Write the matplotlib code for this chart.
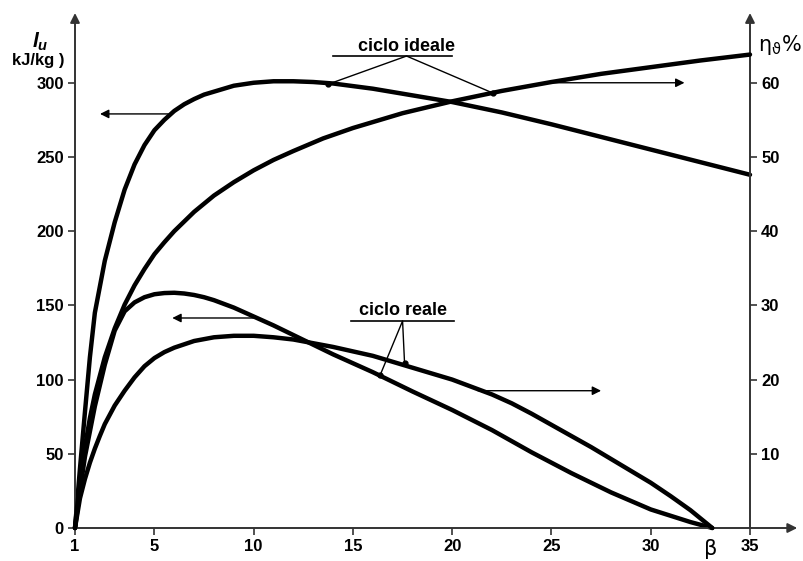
import numpy as np
import matplotlib.pyplot as plt

plt.rcParams['font.family'] = ['Liberation Sans', 'DejaVu Sans']
plt.rcParams['mathtext.fontset'] = 'custom'
plt.rcParams['mathtext.it'] = 'Liberation Sans:bold:italic'
plt.rcParams['mathtext.rm'] = 'Liberation Sans:bold'

# Data
# ideal cycle: specific work (kJ/kg, left axis)
beta_iw = [1, 1.25, 1.5, 1.75, 2, 2.5, 3, 3.5, 4, 4.5, 5, 5.5, 6, 6.5, 7, 7.5, 8, 9, 10, 11, 12, 13, 14, 16,
           18, 20, 22.5, 25, 27.5, 30, 32.5, 35]
lu_ideal = [0, 40, 78, 115, 145, 180, 206, 228, 245, 258, 268, 275, 281, 285.5, 289, 292, 294, 298, 300, 301,
            301, 300.5, 299.5, 296, 291.5, 287, 280, 272, 263.5, 255, 246.5, 238]

# ideal cycle: efficiency (%, right axis)
beta_ie = [1, 1.1, 1.25, 1.5, 1.75, 2, 2.5, 3, 3.5, 4, 4.5, 5, 5.5, 6, 7, 8, 9, 10, 11, 12, 13.5, 15, 17.5,
           20, 22.5, 25, 27.5, 30, 32.5, 35]
eta_ideal = [0, 2.7, 6.2, 10.9, 14.8, 18.0, 23.0, 26.9, 30.1, 32.7, 34.9, 36.9, 38.5, 40.0, 42.6, 44.8, 46.6,
             48.2, 49.6, 50.8, 52.5, 53.9, 55.9, 57.5, 58.9, 60.1, 61.2, 62.1, 63.0, 63.8]

# real cycle: specific work (kJ/kg, left axis)
beta_rw = [1, 1.25, 1.5, 2, 2.5, 3, 3.5, 4, 4.5, 5, 5.5, 6, 6.5, 7, 7.5, 8, 9, 10, 11, 12, 13, 14, 16, 18,
           20, 22, 24, 26, 28, 30, 32, 33.1]
lu_real = [0, 25, 48, 82, 110, 133, 146, 152, 155.5, 157.5, 158.3, 158.5, 158, 157, 155.5, 153.5, 148.5,
           142.5, 136.5, 130, 123.5, 117, 105, 92, 79.5, 66, 51, 37, 24, 12.5, 4, 0]

# real cycle: efficiency (%, right axis)
beta_re = [1, 1.25, 1.5, 1.75, 2, 2.25, 2.5, 3, 3.5, 4, 4.5, 5, 5.5, 6, 7, 8, 9, 10, 11, 12, 13, 14, 15, 16,
           17, 18, 19, 20, 21, 22, 23, 24, 25, 26, 27, 28, 29, 30, 31, 32, 33.1]
eta_real = [0, 4.0, 6.6, 8.8, 10.7, 12.4, 14.0, 16.5, 18.5, 20.3, 21.8, 22.9, 23.7, 24.3, 25.2, 25.7, 25.9,
            25.9, 25.7, 25.4, 24.9, 24.4, 23.8, 23.2, 22.4, 21.6, 20.8, 20.0, 19.0, 18.0, 16.8, 15.4, 13.9,
            12.4, 10.9, 9.3, 7.7, 6.1, 4.3, 2.4, 0]

x_ticks = [1, 5, 10, 15, 20, 25, 30, 35]
y_ticks = [0, 50, 100, 150, 200, 250, 300]
y2_ticks = [10, 20, 30, 40, 50, 60]

y_top = 347
axis_col = '#333333'

fig = plt.figure(figsize=(8.04, 5.61), dpi=100)
ax = fig.add_axes([75 / 804, 33 / 561, 675 / 804, 515 / 561])
ax2 = ax.twinx()

ax.set_xlim(1, 35)
ax.set_ylim(0, y_top)
ax2.set_ylim(0, y_top / 5)

for a in (ax, ax2):
    for s in a.spines.values():
        s.set_visible(False)

ax.set_xticks(x_ticks)
ax.set_yticks(y_ticks)
ax2.set_yticks(y2_ticks)
ax.tick_params(axis='both', direction='out', length=5, width=1.2, color=axis_col, labelsize=12, pad=3)
ax2.tick_params(axis='y', direction='out', length=5, width=1.2, color=axis_col, labelsize=12, pad=3)
for lab in ax.get_xticklabels() + ax.get_yticklabels() + ax2.get_yticklabels():
    lab.set_fontweight('bold')

# axes drawn as arrows
arr = dict(arrowstyle='-|>', lw=1.4, color=axis_col, mutation_scale=14, shrinkA=0, shrinkB=0)
ax.annotate('', xy=(0, 1), xytext=(0, 0), xycoords='axes fraction', arrowprops=arr, annotation_clip=False)
ax.annotate('', xy=(1, 1), xytext=(1, 0), xycoords='axes fraction', arrowprops=arr, annotation_clip=False)
ax.annotate('', xy=(1.07, 0), xytext=(0, 0), xycoords='axes fraction', arrowprops=arr, annotation_clip=False)

# curves
lw = 3.2
style = dict(color='black', lw=lw, solid_joinstyle='round', solid_capstyle='round', clip_on=False)
ax.plot(beta_iw, lu_ideal, **style)
ax.plot(beta_rw, lu_real, **style)
ax2.plot(beta_ie, eta_ideal, **style)
ax2.plot(beta_re, eta_real, **style)

# direction arrows (which axis each curve belongs to)
thin = dict(arrowstyle='-|>', lw=1.0, color='black', mutation_scale=13, shrinkA=0, shrinkB=0)
ax2.annotate('', xy=(2.26, 279), xytext=(5.7, 279), xycoords=ax.transData, arrowprops=thin)
ax2.annotate('', xy=(31.7, 300), xytext=(24.5, 300), xycoords=ax.transData, arrowprops=thin)
ax2.annotate('', xy=(5.9, 141.5), xytext=(10.0, 141.5), xycoords=ax.transData, arrowprops=thin)
ax2.annotate('', xy=(27.5, 92.5), xytext=(21.3, 92.5), xycoords=ax.transData, arrowprops=thin)

# labels of the two cycles
ax2.text(17.7, 319, 'ciclo ideale', transform=ax.transData, ha='center', va='bottom',
         fontsize=13, fontweight='bold')
ax2.plot([14.0, 20.0], [318, 318], color='black', lw=1.2, transform=ax.transData)
ax2.plot([13.75, 17.7, 22.06], [299, 318, 293], color='black', lw=1.0, transform=ax.transData)
ax2.plot([13.75, 22.06], [299, 293], 'o', color='black', ms=3.5, transform=ax.transData)

ax2.text(17.5, 140.5, 'ciclo reale', transform=ax.transData, ha='center', va='bottom',
         fontsize=13, fontweight='bold')
ax2.plot([14.9, 20.1], [139.5, 139.5], color='black', lw=1.2, transform=ax.transData)
ax2.plot([16.37, 17.5, 17.6], [103, 139.5, 111], color='black', lw=1.0, transform=ax.transData)
ax2.plot([16.37, 17.6], [103, 111], 'o', color='black', ms=3.5, transform=ax.transData)

# axis titles
fig.text(40 / 804, 1 - 42 / 561, r'$l_u$', ha='center', va='center', fontsize=15, math_fontfamily='custom')
fig.text(38 / 804, 1 - 60 / 561, 'kJ/kg )', ha='center', va='center', fontsize=12, fontweight='bold')
fig.text(780 / 804, 1 - 45 / 561, r'$\mathrm{\eta}_{\mathrm{\vartheta}}$%', ha='center', va='center',
         fontsize=15, math_fontfamily='dejavusans', fontfamily='DejaVu Sans')
ax.annotate('β', xy=(33.0, 0), xytext=(0, -8), textcoords='offset points', ha='center', va='top',
            fontsize=15, fontfamily='DejaVu Sans', annotation_clip=False)

fig.savefig('out.png', dpi=100)
